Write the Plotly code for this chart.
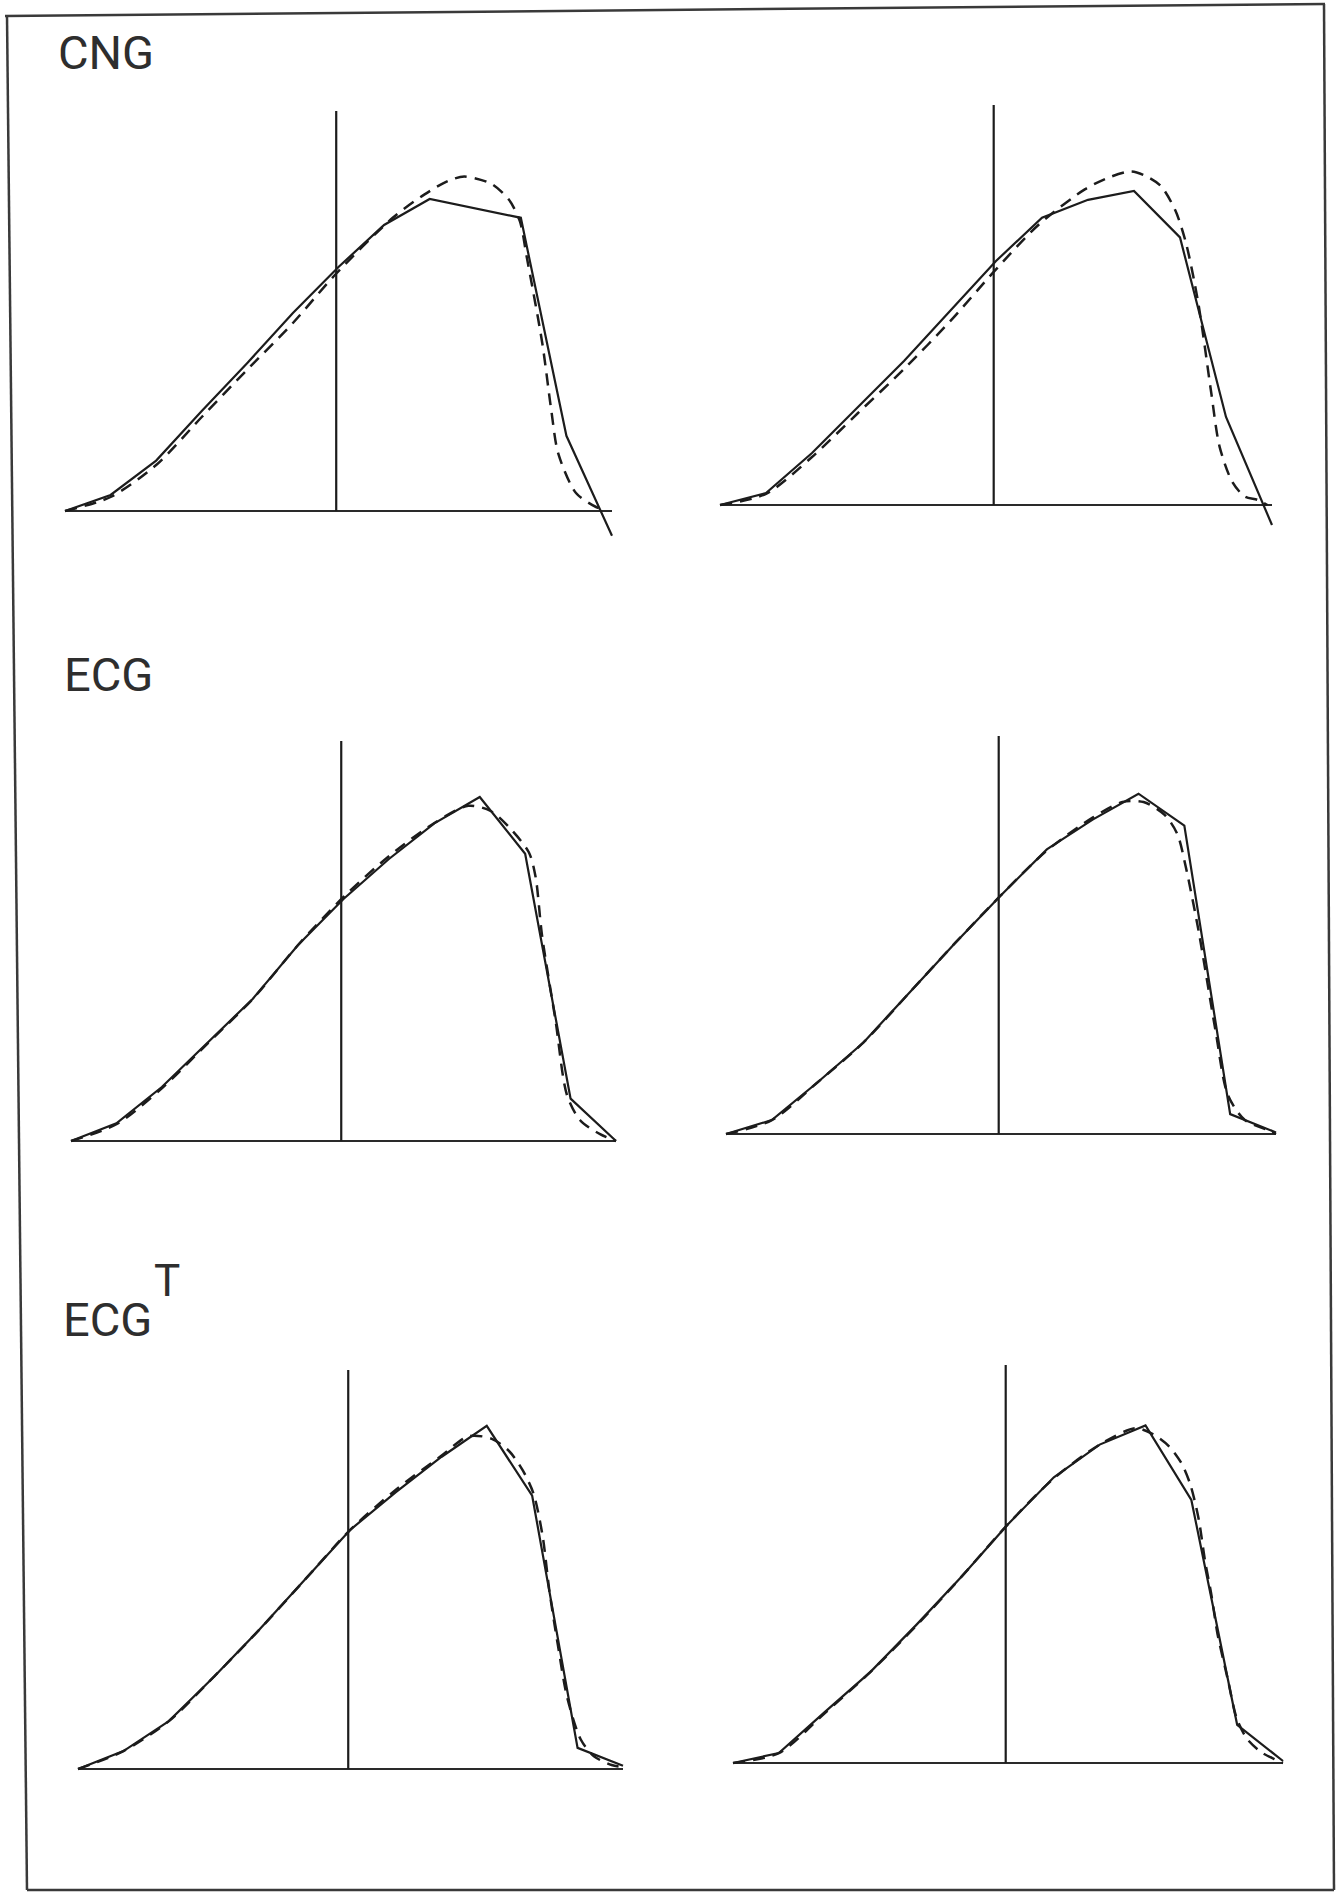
import plotly.graph_objects as go

W, H = 1341, 1896

# sample index along the horizontal axis (13 samples)
steps = list(range(13))
marker_step = 5.95          # position of the vertical reference line

# ---- CNG, left ----
cng_l_solid = [0.0, 0.04, 0.126, 0.25, 0.37, 0.495, 0.61, 0.715, 0.78, 0.756, 0.733, 0.188, -0.062]
cng_l_dash_x = [0, 1, 2, 3, 3.96, 5, 5.92, 7.19, 7.88, 8.4, 8.76, 9.35, 9.74, 9.98, 10.13, 10.47, 10.67, 10.82, 11.21, 11.65, 11.8]
cng_l_dash_y = [0.0, 0.035, 0.115, 0.235, 0.349, 0.47, 0.59, 0.733, 0.791, 0.825, 0.836, 0.818, 0.778, 0.724, 0.635, 0.42, 0.25, 0.144, 0.045, 0.01, 0.005]

# ---- CNG, right ----
cng_r_solid = [0.0, 0.03, 0.13, 0.245, 0.36, 0.485, 0.61, 0.718, 0.763, 0.785, 0.669, 0.22, -0.05]
cng_r_dash_x = [0, 1, 2, 3, 4, 5, 5.96, 6.92, 7.93, 8.48, 8.94, 9.21, 9.58, 9.9, 10.13, 10.4, 10.68, 10.86, 11.14, 11.41, 11.69, 11.9]
cng_r_dash_y = [0.0, 0.028, 0.12, 0.23, 0.34, 0.459, 0.584, 0.70, 0.789, 0.82, 0.834, 0.825, 0.798, 0.736, 0.655, 0.503, 0.28, 0.146, 0.057, 0.021, 0.0125, 0.0]

# ---- ECG, left ----
ecg_l_solid = [0.0, 0.044, 0.135, 0.245, 0.355, 0.49, 0.605, 0.705, 0.794, 0.86, 0.718, 0.106, 0.0]
ecg_l_dash_x = [0, 1, 2, 3, 4, 5, 6, 7, 8, 8.75, 9.24, 9.64, 10.08, 10.23, 10.37, 10.67, 10.92, 11.21, 11.65, 12]
ecg_l_dash_y = [0.0, 0.042, 0.132, 0.243, 0.355, 0.49, 0.61, 0.712, 0.795, 0.838, 0.825, 0.785, 0.722, 0.66, 0.515, 0.30, 0.115, 0.052, 0.017, 0.0]

# ---- ECG, right ----
ecg_r_solid = [0.0, 0.035, 0.13, 0.23, 0.355, 0.48, 0.60, 0.715, 0.79, 0.855, 0.775, 0.05, 0.004]
ecg_r_dash_x = [0, 1, 2, 3, 4, 5, 6, 7, 8, 8.65, 9.11, 9.57, 9.85, 10.03, 10.31, 10.68, 10.95, 11.32, 11.87, 12]
ecg_r_dash_y = [0.0, 0.035, 0.13, 0.23, 0.355, 0.48, 0.60, 0.712, 0.795, 0.834, 0.834, 0.802, 0.753, 0.672, 0.511, 0.26, 0.098, 0.035, 0.008, 0.0]

# ---- ECG^T, left ----
ecgt_l_solid = [0.0, 0.045, 0.12, 0.232, 0.35, 0.475, 0.60, 0.694, 0.782, 0.86, 0.685, 0.053, 0.008]
ecgt_l_dash_x = [0, 1, 2, 3, 4, 5, 6, 7, 8, 8.6, 9.1, 9.49, 9.79, 10.03, 10.23, 10.38, 10.57, 10.77, 11.07, 11.36, 11.75, 12]
ecgt_l_dash_y = [0.0, 0.045, 0.12, 0.232, 0.35, 0.475, 0.60, 0.70, 0.785, 0.834, 0.828, 0.797, 0.749, 0.69, 0.584, 0.446, 0.308, 0.18, 0.074, 0.032, 0.01, 0.005]

# ---- ECG^T, right ----
ecgt_r_solid = [0.0, 0.025, 0.128, 0.229, 0.347, 0.47, 0.60, 0.718, 0.80, 0.848, 0.661, 0.096, 0.005]
ecgt_r_dash_x = [0, 1, 2, 3, 4, 5, 6, 7, 8, 8.78, 9.15, 9.52, 9.79, 9.98, 10.16, 10.3, 10.44, 10.57, 10.8, 10.99, 11.22, 11.54, 11.81, 12]
ecgt_r_dash_y = [0.0, 0.025, 0.125, 0.229, 0.345, 0.47, 0.60, 0.715, 0.80, 0.841, 0.827, 0.795, 0.752, 0.699, 0.613, 0.507, 0.421, 0.325, 0.208, 0.112, 0.06, 0.026, 0.01, 0.0]

# panel frames in page pixels: (left of sample 0, right of sample 12, baseline y, top of reference line y)
panels = [
    (cng_l_solid, cng_l_dash_x, cng_l_dash_y, (65, 612, 511, 111)),
    (cng_r_solid, cng_r_dash_x, cng_r_dash_y, (720, 1272, 505, 105)),
    (ecg_l_solid, ecg_l_dash_x, ecg_l_dash_y, (71, 616, 1141, 741)),
    (ecg_r_solid, ecg_r_dash_x, ecg_r_dash_y, (726, 1276, 1134, 736)),
    (ecgt_l_solid, ecgt_l_dash_x, ecgt_l_dash_y, (78, 623, 1769, 1370)),
    (ecgt_r_solid, ecgt_r_dash_x, ecgt_r_dash_y, (733, 1283, 1763, 1365)),
]

INK = "#1c1c1c"
X_RANGE = (-1.0, 13.0)
Y_RANGE = (-0.2, 1.1)

fig = go.Figure()
layout_axes = {}

for i, (solid, dx, dy, (xl, xr, yb, yt)) in enumerate(panels, start=1):
    sfx = "" if i == 1 else str(i)
    ppx = (xr - xl) / 12.0
    ppy = (yb - yt) / 1.0
    d_left = xl + (X_RANGE[0]) * ppx
    d_right = xl + (X_RANGE[1]) * ppx
    d_bottom = yb - Y_RANGE[0] * ppy
    d_top = yb - Y_RANGE[1] * ppy

    layout_axes["xaxis" + sfx] = dict(
        domain=[d_left / W, d_right / W], range=list(X_RANGE),
        visible=False, anchor="y" + sfx, fixedrange=True)
    layout_axes["yaxis" + sfx] = dict(
        domain=[1 - d_bottom / H, 1 - d_top / H], range=list(Y_RANGE),
        visible=False, anchor="x" + sfx, fixedrange=True)

    xa, ya = "x" + sfx, "y" + sfx
    # baseline
    fig.add_trace(go.Scatter(x=[steps[0], steps[-1]], y=[0, 0], mode="lines",
                             line=dict(color="#2a2a2a", width=1.8),
                             xaxis=xa, yaxis=ya, showlegend=False, hoverinfo="skip"))
    # vertical reference line
    fig.add_trace(go.Scatter(x=[marker_step, marker_step], y=[0, 1], mode="lines",
                             line=dict(color=INK, width=2.2),
                             xaxis=xa, yaxis=ya, showlegend=False, hoverinfo="skip"))
    # smooth dashed profile
    fig.add_trace(go.Scatter(x=dx, y=dy, mode="lines",
                             line=dict(color=INK, width=2.5, dash="12px,8px",
                                       shape="spline", smoothing=0.8),
                             xaxis=xa, yaxis=ya, showlegend=False))
    # piecewise-linear solid profile
    fig.add_trace(go.Scatter(x=steps, y=solid, mode="lines",
                             line=dict(color=INK, width=2.2),
                             xaxis=xa, yaxis=ya, showlegend=False))


def px(x, y):
    return x / W, 1 - y / H


# outer frame
frame_pts = [((5, 16), (1325, 4)), ((7, 16), (27, 1890)),
             ((1324, 4), (1334, 1890)), ((27, 1890), (1334, 1890))]
shapes = []
for (x0, y0), (x1, y1) in frame_pts:
    a, b = px(x0, y0)
    c, d = px(x1, y1)
    shapes.append(dict(type="line", xref="paper", yref="paper", x0=a, y0=b, x1=c, y1=d,
                       line=dict(color="#3a3a3a", width=2.5)))

LABEL_FONT = dict(family="Roboto, Liberation Sans, sans-serif", size=47, color="#2e2e2e")
annotations = []
for text, x, ycap_top in [("CNG", 56, 33), ("ECG", 62, 655), ("ECG", 61, 1300)]:
    a, b = px(x, ycap_top - 10)
    annotations.append(dict(text=text, x=a, y=b, xref="paper", yref="paper",
                            xanchor="left", yanchor="top", showarrow=False, font=LABEL_FONT))
a, b = px(152, 1253)
annotations.append(dict(text="T", x=a, y=b, xref="paper", yref="paper",
                        xanchor="left", yanchor="top", showarrow=False,
                        font=dict(family="Roboto, Liberation Sans, sans-serif", size=44, color="#2e2e2e")))

fig.update_layout(
    width=W, height=H, margin=dict(l=0, r=0, t=0, b=0),
    paper_bgcolor="white", plot_bgcolor="rgba(0,0,0,0)",
    shapes=shapes, annotations=annotations, showlegend=False,
    **layout_axes)

fig.write_html("out.html", config={"displayModeBar": False})
